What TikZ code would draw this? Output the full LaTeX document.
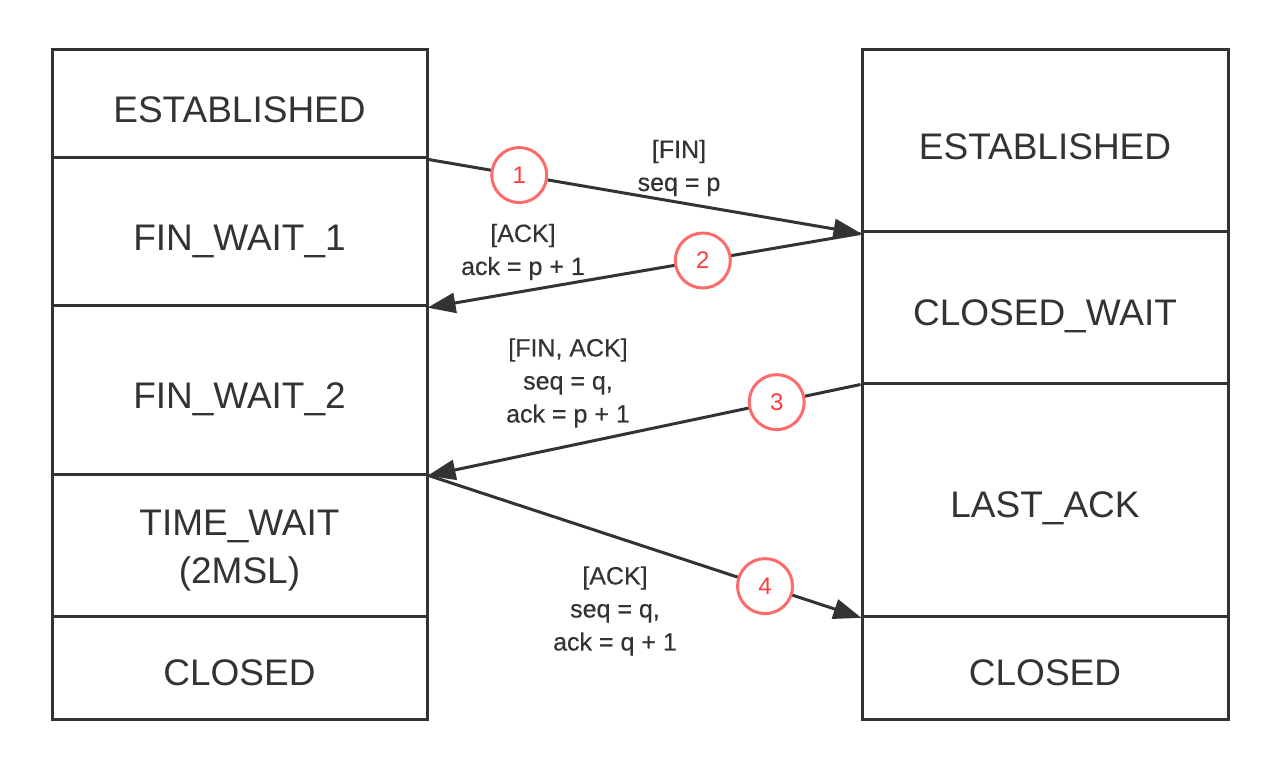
\documentclass[tikz,border=0pt]{standalone}
\usepackage{fontspec}
\setmainfont{Liberation Sans}
\usetikzlibrary{arrows.meta}
\definecolor{ink}{HTML}{333333}
\definecolor{circred}{HTML}{FF6B6B}
\definecolor{numred}{HTML}{FF3B3B}
\begin{document}
\begin{tikzpicture}[x=1pt,y=-1pt,
  cell/.style={draw=ink,line width=3pt,rectangle,minimum width=375pt,inner sep=0pt,
    text=ink,font=\fontsize{37}{48}\selectfont,align=center,text height=38pt,text depth=1.5pt},
  msg/.style={draw=ink,line width=3pt,-{Triangle[length=28pt,width=20pt]},shorten >=-1pt},
  num/.style={circle,draw=circred,fill=white,line width=3pt,minimum size=55pt,inner sep=0pt,
    text=numred,font=\fontsize{24}{24}\selectfont},
  lbl/.style={text=ink,font=\fontsize{25}{33}\selectfont\addfontfeature{FakeBold=0.4},align=center,inner sep=0pt}]
\useasboundingbox (0,0) rectangle (1278,770);
% left column
\node[cell,minimum height=108pt] (l1) at (239.5,104) {ESTABLISHED};
\node[cell,minimum height=148pt] (l2) at (239.5,232) {FIN\_WAIT\_1};
\node[cell,minimum height=168pt] (l3) at (239.5,390) {FIN\_WAIT\_2};
\node[cell,minimum height=142pt,text height=86pt,text depth=10pt] (l4) at (239.5,545) {TIME\_WAIT\\(2MSL)};
\node[cell,minimum height=103pt] (l5) at (239.5,667.5) {CLOSED};
% right column
\node[cell,minimum width=366pt,minimum height=182pt] (r1) at (1045,141) {ESTABLISHED};
\node[cell,minimum width=366pt,minimum height=151pt] (r2) at (1045,307.5) {CLOSED\_WAIT};
\node[cell,minimum width=366pt,minimum height=233pt] (r3) at (1045,499.5) {LAST\_ACK};
\node[cell,minimum width=366pt,minimum height=103pt] (r4) at (1045,667.5) {CLOSED};
% messages
\draw[msg] (l1.south east) -- node[num,pos=0.21] (n1) {1} (r1.south west);
\draw[msg] (r1.south west) -- node[num,pos=0.365] (n2) {2} (l2.south east);
\draw[msg] (r2.south west) -- node[num,pos=0.194] (n3) {3} (l3.south east);
\draw[msg] (l3.south east) -- node[num,pos=0.779] (n4) {4} (r3.south west);
% labels
\node[lbl] (t1) at (679,168) {[FIN]\\seq = p};
\node[lbl] (t2) at (523,252) {[ACK]\\ack = p + 1};
\node[lbl] (t3) at (568,383) {[FIN, ACK]\\seq = q,\\ack = p + 1};
\node[lbl] (t4) at (615,611) {[ACK]\\seq = q,\\ack = q + 1};
\end{tikzpicture}
\end{document}
